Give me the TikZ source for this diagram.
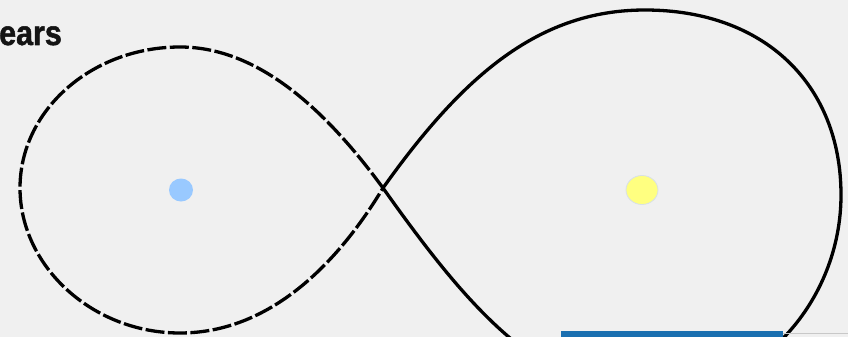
\documentclass[tikz,border=0pt]{standalone}
\usepackage{fontspec}
\setmainfont{Liberation Sans}
\newfontfamily\labelfont[FakeBold=1.5]{Liberation Sans Bold}
\usetikzlibrary{shapes.geometric}
\definecolor{bgc}{HTML}{F0F0F0}
\definecolor{bluedot}{HTML}{99C9FF}
\definecolor{yellowdot}{HTML}{FFFF80}
\definecolor{yedge}{HTML}{D8E0E8}
\definecolor{barblue}{HTML}{1A6FB0}
\definecolor{lineg}{HTML}{C8C8C8}
\tikzset{
  curve/.style={line width=3.3pt, black, line cap=butt, line join=round},
  dashedlobe/.style={curve, dash pattern=on 19pt off 3.5pt},
  dot/.style={ellipse, inner sep=0pt, draw=none},
}
\begin{document}
\begin{tikzpicture}[x=1pt,y=-1pt]
\fill[bgc] (0,0) rectangle (848,337);
\useasboundingbox (0,0) rectangle (848,337);
\begin{scope}
\clip (0,0) rectangle (848,337);
\coordinate (C) at (383,188);
\coordinate (T) at (180,47);
\coordinate (L) at (20,188);
\coordinate (B) at (180,333);
\coordinate (T2) at (645,10);
\coordinate (R) at (841,195);
\coordinate (Bo) at (650,395);
% left lobe (dashed)
\draw[dashedlobe] (C) .. controls (328,113) and (260,47) .. (T)
  .. controls (92,47) and (20,110) .. (L)
  .. controls (20,266) and (92,333) .. (B)
  .. controls (270,333) and (338,263) .. (C);
% right lobe (solid)
\draw[curve] (C) .. controls (464,74) and (540,10) .. (T2)
  .. controls (765,10) and (841,85) .. (R)
  .. controls (841,300) and (760,395) .. (Bo)
  .. controls (540,395) and (464,302) .. (C);
% bottom bar
\fill[barblue] (561,331) rectangle (783,337);
\draw[lineg, line width=1pt] (783,333.5) -- (848,333.5);
\end{scope}
\node[dot, fill=bluedot, minimum width=24pt, minimum height=23pt] (earth) at (181,190) {};
\node[dot, fill=yellowdot, draw=yedge, line width=0.8pt, minimum width=32pt, minimum height=29pt] (sun) at (642,190) {};
\node[anchor=base west, inner sep=0pt, text=black!92] (label) at (-1,45) {\scalebox{1.05}[1.2]{\labelfont\fontsize{29}{30}\selectfont ears}};
\end{tikzpicture}
\end{document}
